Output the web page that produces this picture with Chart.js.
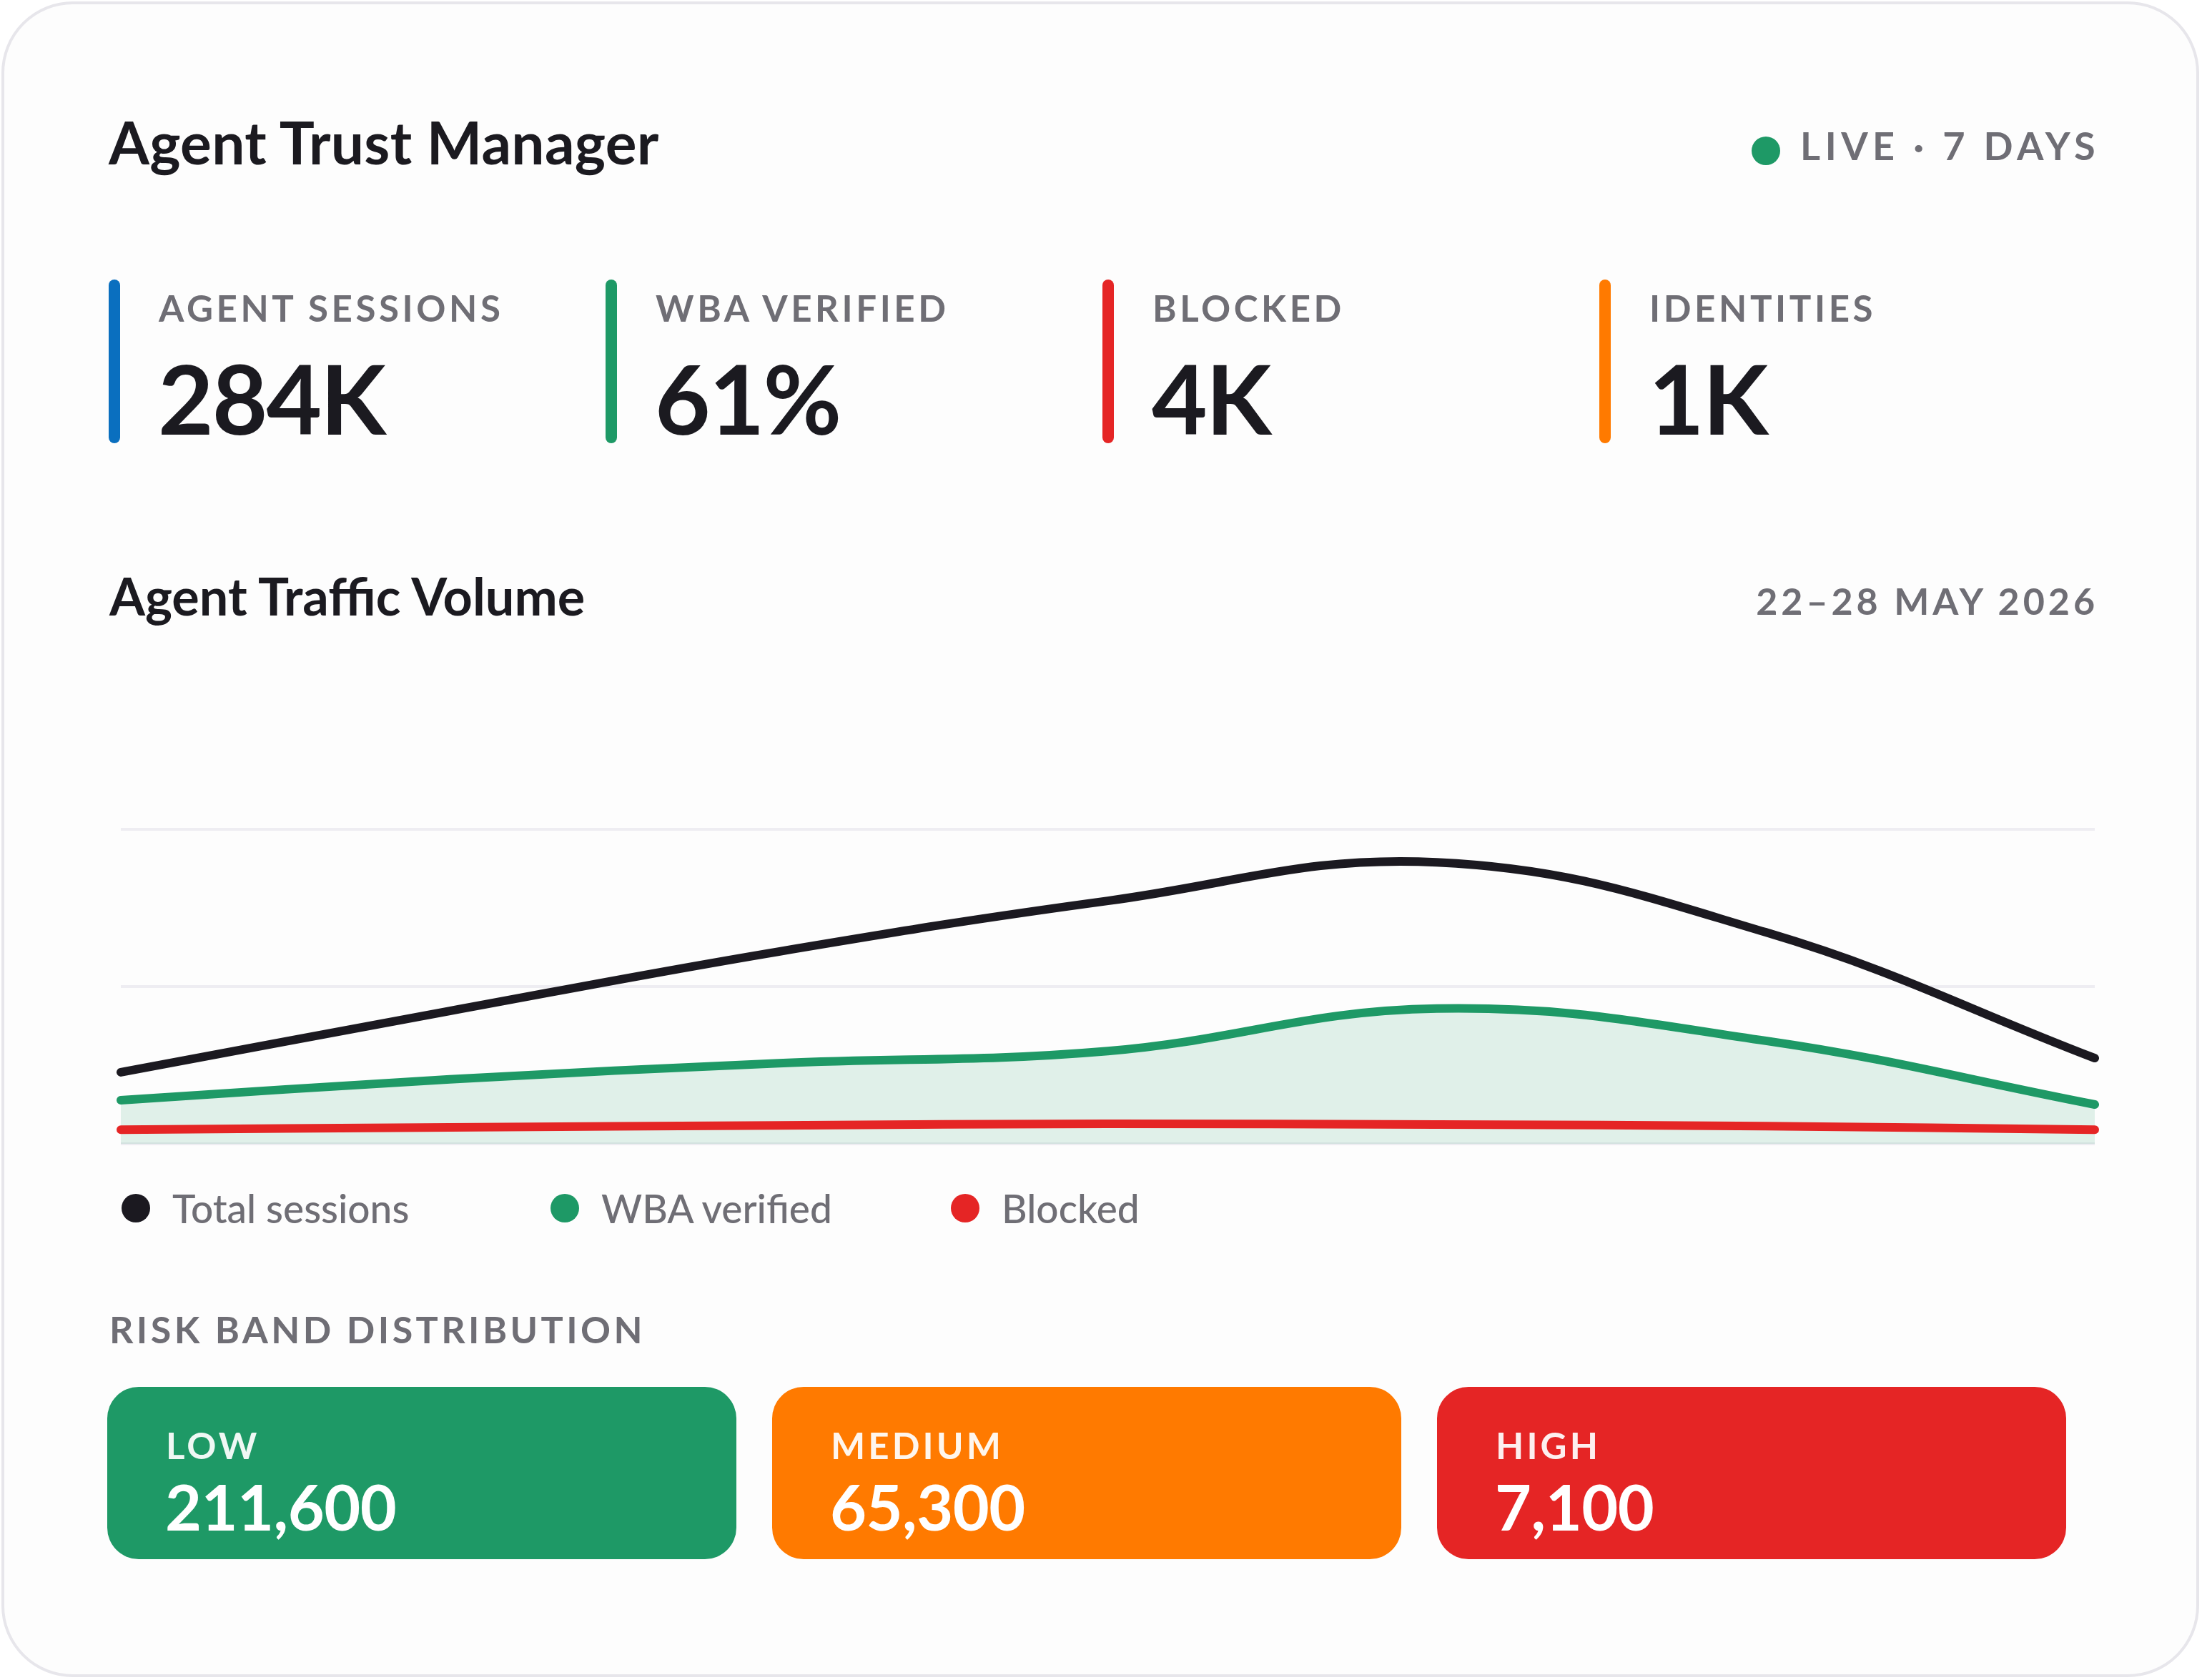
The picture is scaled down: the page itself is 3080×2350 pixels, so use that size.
<!DOCTYPE html>
<html lang="en">
<head>
<meta charset="utf-8">
<title>Agent Trust Manager</title>
<script src="https://cdn.jsdelivr.net/npm/chart.js@4.4.1/dist/chart.umd.min.js"></script>
<style>
  html, body { margin: 0; padding: 0; background: #ffffff; }
  body {
    position: relative; width: 3080px; height: 2350px; overflow: hidden;
    font-family: Lato, 'Noto Sans', sans-serif; color: #1b1a20; line-height: 1;
  }
  .abs { position: absolute; white-space: nowrap; }
  .card {
    left: 2px; top: 2px; width: 3074px; height: 2344px; box-sizing: border-box;
    border: 4px solid #e7e6eb; border-radius: 100px; background: #fdfdfd;
  }
  .caps { color: #6f6e75; font-weight: 700; letter-spacing: 0.1em; text-transform: uppercase; }

  /* header */
  .title { left: 152px; top: 157px; font-size: 82px; font-weight: 700; letter-spacing: 0.3px; }
  .live { right: 143px; top: 177px; font-size: 54px; letter-spacing: 0.12em; }
  .live-dot { left: 2450px; top: 191px; width: 40px; height: 40px; border-radius: 50%; background: #1e9966; }

  /* kpi strip */
  .kpis { left: 152px; top: 391px; display: flex; }
  .kpi { position: relative; width: 695px; height: 229px; }
  .kpi-bar { position: absolute; left: 0; top: 0; width: 16px; height: 229px; border-radius: 8px; }
  .kpi-label { position: absolute; left: 70px; top: 14px; font-size: 51px; letter-spacing: 0.09em; }
  .kpi-value { position: absolute; left: 69px; top: 99px; font-size: 134px; font-weight: 700; letter-spacing: -2px; }

  /* chart */
  .chart-title { left: 153px; top: 797px; font-size: 72px; font-weight: 700; }
  .range { right: 145px; top: 814px; font-size: 52px; letter-spacing: 0.095em; }
  #trafficChart { position: absolute; left: 149px; top: 1120px; }

  /* legend */
  .legend { left: 170px; top: 1670px; display: flex; }
  .legend-item { display: flex; align-items: center; height: 40px; font-size: 55px; font-weight: 500; color: #6f6e75; }
  .legend-item:nth-child(1) { width: 600px; }
  .legend-item:nth-child(2) { width: 560px; }
  .legend-dot { width: 40px; height: 40px; border-radius: 50%; margin-right: 31px; flex: none; }

  /* risk bands */
  .risk-title { left: 153px; top: 1833px; font-size: 52px; letter-spacing: 0.085em; }
  .tiles { left: 150px; top: 1940px; display: flex; gap: 50px; }
  .tile { position: relative; width: 880px; height: 241px; border-radius: 44px; color: #ffffff; }
  .tile-label { position: absolute; left: 82px; top: 56px; font-size: 51px; color: rgba(255,255,255,0.93); letter-spacing: 0.08em; }
  .tile-value { position: absolute; left: 81px; top: 123px; font-size: 88px; font-weight: 700; letter-spacing: -0.5px; }
</style>
</head>
<body>
<div class="abs card"></div>

<div class="abs title">Agent Trust Manager</div>
<div class="abs live-dot"></div>
<div class="abs caps live">Live · 7 days</div>

<div class="abs kpis" id="kpis"></div>

<div class="abs chart-title">Agent Traffic Volume</div>
<div class="abs caps range">22–28 May 2026</div>
<canvas id="trafficChart" width="2801" height="520"></canvas>

<div class="abs legend" id="legend"></div>

<div class="abs caps risk-title">Risk band distribution</div>
<div class="abs tiles" id="tiles"></div>

<script>
// ─── Data ─────────────────────────────────────────────────────────────────────

const days = ['22 May', '23 May', '24 May', '25 May', '26 May', '27 May', '28 May'];
const totalSessions = [18200, 33800, 48900, 61800, 71600, 53800, 21800];
const wbaVerified = [11100, 16400, 20500, 23600, 34400, 26200, 10000];
const blocked = [3600, 4200, 4700, 5100, 4900, 4500, 3600];
const yGrid = [0, 40000, 80000];

const kpiLabels = ['Agent sessions', 'WBA verified', 'Blocked', 'Identities'];
const kpiValues = ['284K', '61%', '4K', '1K'];

const seriesLabels = ['Total sessions', 'WBA verified', 'Blocked'];

const riskBands = ['Low', 'Medium', 'High'];
const riskCounts = [211600, 65300, 7100];

// ─── Palette ──────────────────────────────────────────────────────────────────

const INK = '#1b1920';
const GREEN = '#1e9966';
const RED = '#e52525';
const BLUE = '#0a6fbf';
const ORANGE = '#ff7a00';
const GRID = '#eeedf2';

const kpiColors = [BLUE, GREEN, RED, ORANGE];
const seriesColors = [INK, GREEN, RED];
const riskColors = [GREEN, ORANGE, RED];

// ─── KPI strip ────────────────────────────────────────────────────────────────

document.getElementById('kpis').innerHTML = kpiLabels
  .map((l, i) => `<div class="kpi"><div class="kpi-bar" style="background:${kpiColors[i]}"></div>` +
    `<div class="kpi-label caps">${l}</div><div class="kpi-value">${kpiValues[i]}</div></div>`)
  .join('');

// ─── Legend ───────────────────────────────────────────────────────────────────

document.getElementById('legend').innerHTML = seriesLabels
  .map((l, i) => `<div class="legend-item"><div class="legend-dot" style="background:${seriesColors[i]}"></div><span>${l}</span></div>`)
  .join('');

// ─── Risk tiles ───────────────────────────────────────────────────────────────

document.getElementById('tiles').innerHTML = riskBands
  .map((b, i) => `<div class="tile" style="background:${riskColors[i]}"><div class="tile-label caps">${b}</div>` +
    `<div class="tile-value">${riskCounts[i].toLocaleString('en-US')}</div></div>`)
  .join('');

// ─── Traffic chart ────────────────────────────────────────────────────────────

const canvas = document.getElementById('trafficChart');
canvas.setAttribute('role', 'img');
canvas.setAttribute('aria-label', 'Line chart of daily agent sessions, WBA verified sessions and blocked sessions, 22–28 May 2026');

new Chart(canvas.getContext('2d'), {
  type: 'line',
  data: {
    labels: days,
    datasets: [
      { label: seriesLabels[0], data: totalSessions, borderColor: seriesColors[0], order: 0 },
      {
        label: seriesLabels[1], data: wbaVerified, borderColor: seriesColors[1],
        backgroundColor: 'rgba(30,153,102,0.13)', fill: 'origin', order: 2,
      },
      { label: seriesLabels[2], data: blocked, borderColor: seriesColors[2], order: 1 },
    ],
  },
  options: {
    responsive: false,
    animation: false,
    devicePixelRatio: 1,
    layout: { padding: { left: 20, right: 20, top: 40, bottom: 40 } },
    elements: {
      line: { borderWidth: 12, tension: 0.4, borderCapStyle: 'round', borderJoinStyle: 'round', fill: false },
      point: { radius: 0, hoverRadius: 0 },
    },
    plugins: { legend: { display: false }, tooltip: { enabled: false } },
    scales: {
      x: { display: false },
      y: {
        min: yGrid[0],
        max: yGrid[yGrid.length - 1],
        ticks: { display: false, stepSize: yGrid[1] - yGrid[0] },
        grid: { color: GRID, lineWidth: 4, drawTicks: false },
        border: { display: false },
      },
    },
  },
});
</script>
</body>
</html>
